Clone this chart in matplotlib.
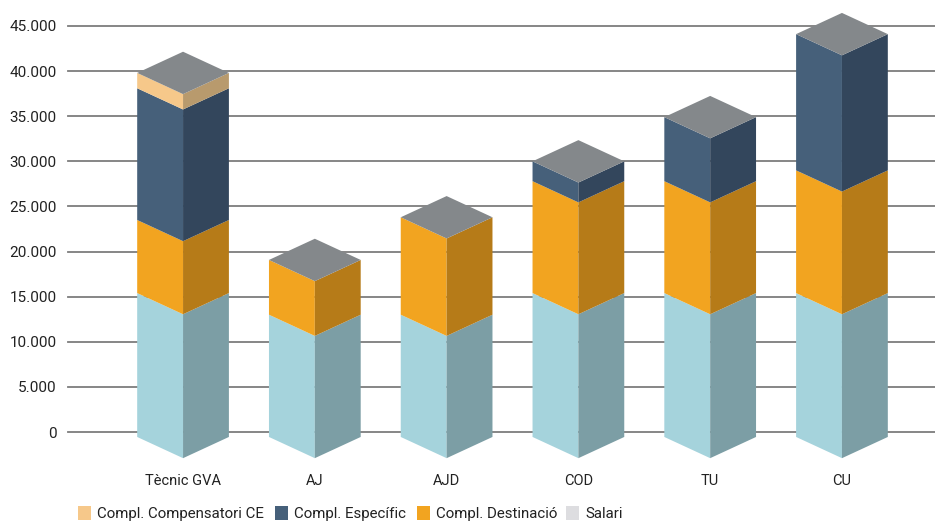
import numpy as np
import matplotlib
matplotlib.use('Agg')
import matplotlib.pyplot as plt
from matplotlib.patches import Rectangle

plt.rcParams['font.family'] = ['Roboto', 'DejaVu Sans']

categories = ['Tècnic GVA', 'AJ', 'AJD', 'COD', 'TU', 'CU']
salari = [15400, 13000, 13000, 15400, 15400, 15400]
destinacio = [8100, 6070, 10800, 12400, 12400, 13600]
especific = [14600, 0, 0, 2200, 7100, 15100]
compensatori = [1700, 0, 0, 0, 0, 0]
y_ticks = [0, 5000, 10000, 15000, 20000, 25000, 30000, 35000, 40000, 45000]
y_labels = ['0', '5.000', '10.000', '15.000', '20.000', '25.000', '30.000', '35.000', '40.000', '45.000']
legend_labels = ['Compl. Compensatori CE', 'Compl. Específic', 'Compl. Destinació', 'Salari']
legend_colors = ['#f6c88a', '#46607a', '#f2a420', '#dddde0']

W, H = 935, 522
half = 0.348    # half width of a bar, in category units
depth = 2350    # how far the front corner drops, in data units
base = -550     # side edges start a bit under the zero line

fig = plt.figure(figsize=(W / 100, H / 100), dpi=100)
ax = fig.add_axes([68 / W, 1 - 432 / H, (W - 68) / W, 406 / H])
ax.set_xlim(-0.873, 5.706)
ax.set_ylim(0, 45000)

# gridlines go behind the bars
for t in y_ticks:
    ax.axhline(t, color='#7d7d7d', lw=1.3, zorder=1, clip_on=False)

series = [
    (salari, '#a5d3dc', '#7c9ea5'),
    (destinacio, '#f2a420', '#b67b18'),
    (especific, '#46607a', '#33465c'),
    (compensatori, '#f6c88a', '#b89a6d'),
]

for i in range(len(categories)):
    y0 = base
    for values, front, side in series:
        v = values[i]
        if v == 0:
            continue
        # the first segment is measured from the zero line
        y1 = v if y0 == base else y0 + v
        ax.fill([i - half, i, i, i - half], [y0, y0 - depth, y1 - depth, y1],
                color=front, lw=0, zorder=3, clip_on=False)
        ax.fill([i + half, i, i, i + half], [y0, y0 - depth, y1 - depth, y1],
                color=side, lw=0, zorder=3, clip_on=False)
        y0 = y1
    # top face
    ax.fill([i - half, i, i + half, i], [y0, y0 + depth, y0, y0 - depth],
            color='#84888b', lw=0, zorder=4, clip_on=False)

for s in ax.spines.values():
    s.set_visible(False)
ax.set_xticks(range(len(categories)))
ax.set_xticklabels(categories, fontsize=10.5, color='#222222')
ax.tick_params(axis='x', length=0, pad=30)
ax.set_yticks(y_ticks)
ax.set_yticklabels(y_labels, fontsize=11, color='#222222')
ax.tick_params(axis='y', length=0, pad=8)

# legend row, placed by hand so the entries sit where the reference has them
swatch_x = [78, 275, 417, 566]
text_x = [97, 294, 436, 585]
for sx, tx, lab, col in zip(swatch_x, text_x, legend_labels, legend_colors):
    fig.add_artist(Rectangle((sx / W, 1 - 520 / H), 13 / W, 14 / H, color=col, lw=0,
                             transform=fig.transFigure))
    fig.text(tx / W, 1 - 514 / H, lab, fontsize=10.8, color='#222222', va='center', ha='left')

fig.savefig('out.png', dpi=100)
